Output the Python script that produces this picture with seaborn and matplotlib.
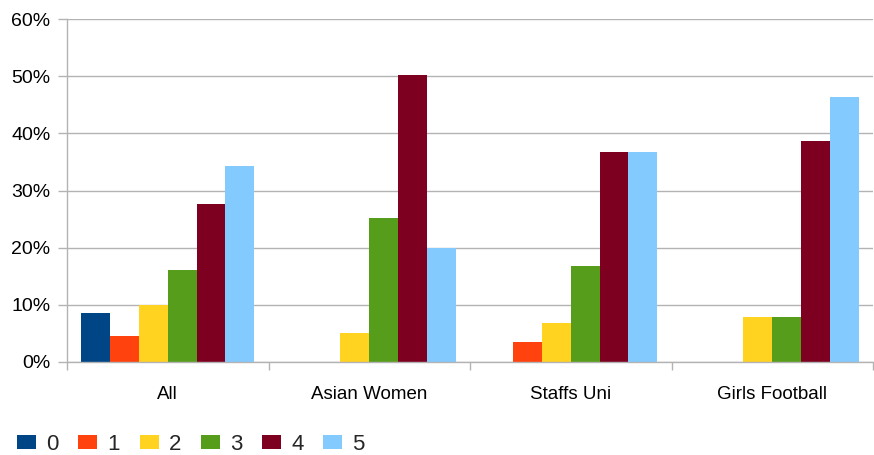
import matplotlib
matplotlib.use("Agg")
import matplotlib.pyplot as plt
from matplotlib.patches import Rectangle
from matplotlib.ticker import PercentFormatter, FixedLocator
import seaborn as sns
import pandas as pd

# Survey groups and the share of responses at each rating (0-5)
groups = ["All", "Asian Women", "Staffs Uni", "Girls Football"]
ratings = ["0", "1", "2", "3", "4", "5"]
share_0 = [8.6, 0.0, 0.0, 0.0]
share_1 = [4.6, 0.0, 3.5, 0.0]
share_2 = [10.0, 5.1, 6.9, 7.9]
share_3 = [16.1, 25.2, 16.8, 7.9]
share_4 = [27.6, 50.2, 36.7, 38.6]
share_5 = [34.3, 20.0, 36.7, 46.3]
palette = ["#004586", "#ff420e", "#ffd320", "#579d1c", "#7e0021", "#83caff"]

rows = []
for rating, values in zip(ratings, [share_0, share_1, share_2, share_3, share_4, share_5]):
    for g, v in zip(groups, values):
        rows.append({"group": g, "rating": rating, "share": v})
df = pd.DataFrame(rows)

sns.set_theme(style="white")
plt.rcParams["font.family"] = ["Liberation Sans", "DejaVu Sans"]

fig = plt.figure(figsize=(8.74, 4.55), dpi=100)
ax = fig.add_axes([67 / 874, 1 - 362 / 455, 806 / 874, 343 / 455])

sns.barplot(data=df, x="group", y="share", hue="rating", order=groups,
            hue_order=ratings, palette=palette, width=0.857, gap=0,
            saturation=1, linewidth=0, errorbar=None, legend=False, ax=ax)

ax.set_ylim(0, 60)
ax.set_xlim(-0.5, 3.5)
ax.yaxis.set_major_formatter(PercentFormatter(decimals=0))
ax.set_yticks(range(0, 61, 10))
ax.grid(axis="y", color="#b3b3b3", linewidth=1)
ax.set_axisbelow(True)
ax.set_xlabel("")
ax.set_ylabel("")

for side in ["top", "right"]:
    ax.spines[side].set_visible(False)
for side in ["left", "bottom"]:
    ax.spines[side].set_color("#b3b3b3")
    ax.spines[side].set_linewidth(1)

# Category labels centred, tick marks at the group boundaries
ax.xaxis.set_major_locator(FixedLocator([-0.5, 0.5, 1.5, 2.5, 3.5]))
ax.xaxis.set_minor_locator(FixedLocator([0, 1, 2, 3]))
ax.set_xticklabels([])
ax.set_xticklabels(groups, minor=True)
ax.tick_params(axis="x", which="major", bottom=True, length=6, width=1,
               color="#b3b3b3", direction="out")
ax.tick_params(axis="x", which="minor", bottom=False, length=0, pad=17,
               labelsize=13.5, labelcolor="#000000")
ax.tick_params(axis="y", left=True, length=6.5, width=1, color="#b3b3b3",
               direction="out", labelsize=14, labelcolor="#000000", pad=5.5)

handles = [Rectangle((0, 0), 1, 1, facecolor=c, edgecolor="none") for c in palette]
fig.legend(handles, ratings, loc="center left",
           bbox_to_anchor=(17 / 874, 1 - 444 / 455),
           ncol=6, frameon=False, fontsize=16, handlelength=0.85,
           handleheight=0.6, handletextpad=0.45, columnspacing=0.9,
           borderpad=0, borderaxespad=0)

fig.savefig("out.png", dpi=100)
